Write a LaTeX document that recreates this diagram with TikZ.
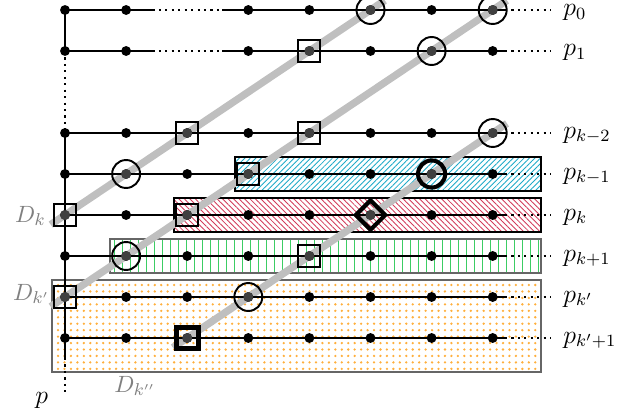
\documentclass[tikz,border=0pt]{standalone}
\usetikzlibrary{patterns.meta,shapes.geometric}
\definecolor{cyanH}{RGB}{30,170,200}
\definecolor{redH}{RGB}{210,60,90}
\definecolor{greenH}{RGB}{60,205,100}
\definecolor{orangeH}{RGB}{255,175,60}
\begin{document}
\begin{tikzpicture}[x=0.4652pt,y=-0.4652pt,
  blk/.style={line width=1pt},
  dotext/.style={line width=1pt,dotted},
  gline/.style={line width=3.4pt,black!25,shorten <=-8pt,shorten >=-8pt},
  dotn/.style={circle,fill=black,inner sep=0pt,minimum size=4.6pt},
  mdot/.style={circle,fill=black!75,inner sep=0pt,minimum size=4.6pt},
  circm/.style={circle,draw,line width=0.9pt,minimum size=13pt,inner sep=0pt},
  tcircm/.style={circle,draw,line width=1.9pt,minimum size=12.6pt,inner sep=0pt},
  sqm/.style={rectangle,draw,line width=0.9pt,minimum size=10.2pt,inner sep=0pt},
  tsqm/.style={rectangle,draw,line width=2.3pt,minimum size=10.2pt,inner sep=0pt},
  dm/.style={diamond,draw,line width=1.9pt,minimum size=14.4pt,inner sep=0pt},
  rlab/.style={anchor=base west,inner sep=0pt,font=\large},
  glab/.style={inner sep=0pt,text=black!50,font=\fontsize{11}{13}\selectfont},
  box/.style={line width=0.6pt},
  gfill/.style={line width=0.5pt,greenH}
]
\useasboundingbox (0,0) rectangle (631,414);
% coordinates
\foreach \r in {0,1,3,4,5,6,7,8}{
  \foreach \c in {0,...,7}{
    \coordinate (r\r c\c) at ({65+61.1*\c},{10+41*\r});
  }
  \coordinate (r\r e) at ({65+61.1*7.2},{10+41*\r});
  \coordinate (r\r f) at ({65+61.1*7.95},{10+41*\r});
}
\foreach \r in {0,1}{
  \coordinate (r\r a) at ({65+61.1*1.43},{10+41*\r});
  \coordinate (r\r b) at ({65+61.1*2.57},{10+41*\r});
}
\coordinate (vA) at (65,358);
\coordinate (vB) at (65,392);

% shaded boxes
\draw[box,pattern={Lines[angle=45,distance=1.8pt,line width=0.4pt]},pattern color=cyanH] (235,157) rectangle (541,191);
\draw[box,pattern={Lines[angle=-45,distance=1.8pt,line width=0.4pt]},pattern color=redH] (174,198) rectangle (541,232);
\foreach \i in {0,...,53}{
  \draw[gfill] ({114.5+8*\i},239) -- ({114.5+8*\i},273);
}
\draw[box,draw=black!60] (110,239) rectangle (541,273);
\draw[box,draw=black!60,pattern={Dots[distance=3pt,radius=0.6pt]},pattern color=orangeH] (52,280) rectangle (541,372);

% gray diagonals
\draw[gline] (r5c0) -- (r0c5);
\draw[gline] (r7c0) -- (r0c7);
\draw[gline] (r8c2) -- (r3c7);

% vertical line
\draw[blk] (r0c0) -- (r1c0);
\draw[dotext] (r1c0) -- (r3c0);
\draw[blk] (r3c0) -- (vA);
\draw[dotext] (vA) -- (vB);

% horizontal lines
\foreach \r in {0,1}{
  \draw[blk] (r\r c0) -- (r\r a);
  \draw[dotext] (r\r a) -- (r\r b);
  \draw[blk] (r\r b) -- (r\r e);
  \draw[dotext] (r\r e) -- (r\r f);
}
\foreach \r in {3,4,5,6,7,8}{
  \draw[blk] (r\r c0) -- (r\r e);
  \draw[dotext] (r\r e) -- (r\r f);
}

% dots
\foreach \r in {0,1}{
  \foreach \c in {0,1,3,4,5,6,7}{ \node[dotn] (d\r-\c) at (r\r c\c) {}; }
}
\foreach \r in {3,4,5,6,7,8}{
  \foreach \c in {0,...,7}{ \node[dotn] (d\r-\c) at (r\r c\c) {}; }
}

% markers
\foreach \p in {r0c5,r0c7,r1c6,r3c7,r4c1,r6c1,r7c3}{
  \node[mdot] at (\p) {}; \node[circm] (m\p) at (\p) {};
}
\foreach \p in {r1c4,r3c2,r3c4,r4c3,r5c0,r5c2,r6c4,r7c0}{
  \node[mdot] at (\p) {}; \node[sqm] (m\p) at (\p) {};
}
\node[mdot] at (r4c6) {}; \node[tcircm] (mr4c6) at (r4c6) {};
\node[mdot] at (r8c2) {}; \node[tsqm] (mr8c2) at (r8c2) {};
\node[mdot] at (r5c5) {}; \node[dm] (mr5c5) at (r5c5) {};

% labels
\node[rlab] (l0) at (563,16) {$p_0$};
\node[rlab] (l1) at (563,56) {$p_1$};
\node[rlab] (l3) at (563,138) {$p_{k-2}$};
\node[rlab] (l4) at (563,179) {$p_{k-1}$};
\node[rlab] (l5) at (563,220) {$p_k$};
\node[rlab] (l6) at (563,261) {$p_{k+1}$};
\node[rlab] (l7) at (563,302) {$p_{k'}$};
\node[rlab] (l8) at (563,343) {$p_{k'+1}$};
\node[glab,anchor=base east] (Dk) at (46,222) {$D_k$};
\node[glab,anchor=base east] (Dk1) at (50,300) {$D_{k'}$};
\node[glab,anchor=base west] (Dk2) at (114,392) {$D_{k''}$};
\node[inner sep=0pt,anchor=base west,font=\large] (p) at (35,403) {$p$};
\end{tikzpicture}
\end{document}
